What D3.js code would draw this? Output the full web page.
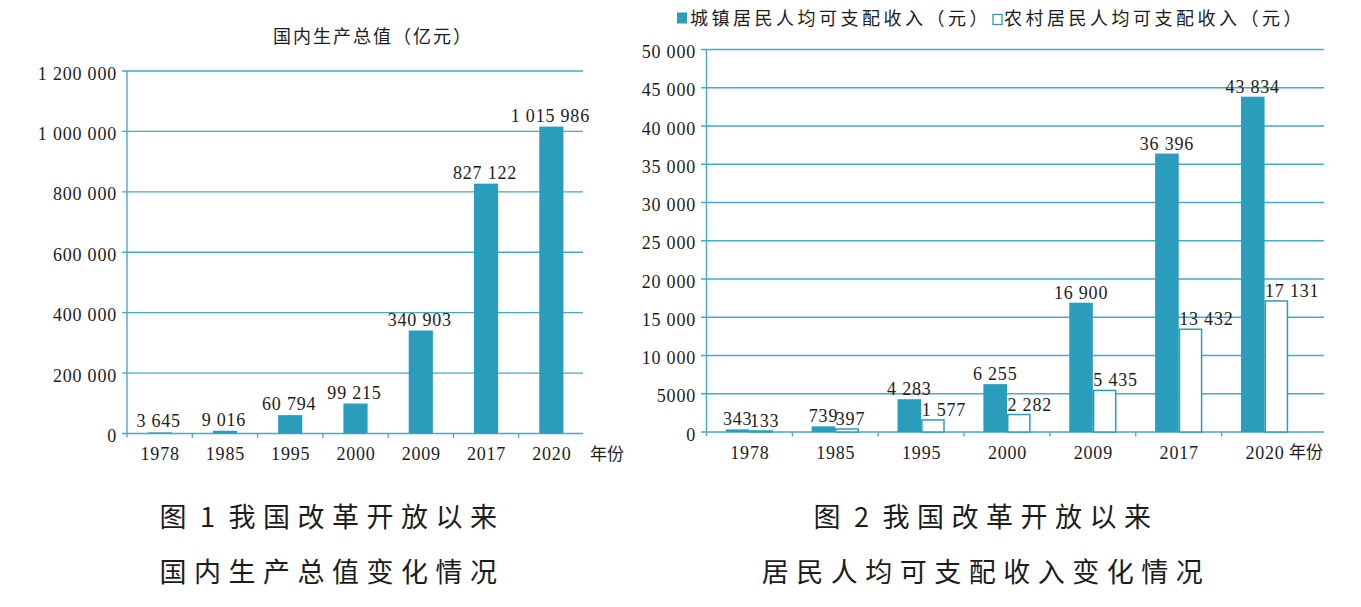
<!DOCTYPE html>
<html>
<head>
<meta charset="utf-8">
<script src="https://cdn.jsdelivr.net/npm/d3@7"></script>
<style>
  html, body { margin: 0; padding: 0; background: #fff; }
  svg { display: block; }
  .num { font-family: "Liberation Serif", "Times New Roman", serif; font-size: 18px; letter-spacing: 0.8px; fill: #1c1c1c; }
  .cjk { font-family: "Noto Sans CJK SC", sans-serif; fill: #1c1c1c; }
</style>
</head>
<body>
<div id="chart"></div>
<script>
// Two side-by-side bar charts: GDP since reform (left), per-capita disposable
// income urban vs rural (right).

const years = ['1978', '1985', '1995', '2000', '2009', '2017', '2020'];
const gdp = [3645, 9016, 60794, 99215, 340903, 827122, 1015986];
const urban = [343, 739, 4283, 6255, 16900, 36396, 43834];
const rural = [133, 397, 1577, 2282, 5435, 13432, 17131];
const gdpTicks = [0, 200000, 400000, 600000, 800000, 1000000, 1200000];
const incomeTicks = [0, 5000, 10000, 15000, 20000, 25000, 30000, 35000, 40000, 45000, 50000];
const seriesNames = ['城镇居民人均可支配收入（元）', '农村居民人均可支配收入（元）'];

const W = 1361, H = 607;
const BAR = '#2a9cbc';
const GRID = '#45a9c9';

const spaced = (v) => d3.format(',')(v).replace(/,/g, ' ');
const tickFmt = (v) => (v >= 10000 ? spaced(v) : String(v));

const svg = d3.select('#chart').append('svg')
  .attr('width', W).attr('height', H).attr('viewBox', `0 0 ${W} ${H}`);

// shared frame: gridlines, axis lines, category ticks, labels
function frame(x, y, ticks, o) {
  const g = svg.append('g');
  g.selectAll('line.grid').data(ticks).join('line')
    .attr('x1', o.gridL).attr('x2', o.gridR)
    .attr('y1', (d) => y(d)).attr('y2', (d) => y(d))
    .style('stroke', GRID).attr('stroke-width', 1.3);
  g.selectAll('text.yt').data(ticks).join('text')
    .attr('class', 'num')
    .attr('x', o.gridL - 5).attr('y', (d) => y(d) + 8.5)
    .attr('text-anchor', 'end')
    .text(tickFmt);
  // category boundary ticks
  const half = (x.step() - x.bandwidth()) / 2;
  g.selectAll('line.xt').data(years.slice(1)).join('line')
    .attr('x1', (d) => x(d) - half).attr('x2', (d) => x(d) - half)
    .attr('y1', y(0)).attr('y2', y(0) + 4.5)
    .style('stroke', GRID).attr('stroke-width', 1.3);
  g.selectAll('text.xl').data(years).join('text')
    .attr('class', 'num')
    .attr('x', (d) => x(d) + x.bandwidth() / 2 + 0.5).attr('y', y(0) + 26.5)
    .attr('text-anchor', 'middle')
    .text((d) => d);
  g.append('text').attr('class', 'cjk')
    .attr('x', o.unitX).attr('y', y(0) + 26)
    .style('font-size', '17px')
    .text('年份');
  return g;
}

function axisLine(x0, y0, y1) {
  svg.append('line')
    .attr('x1', x0).attr('x2', x0).attr('y1', y1).attr('y2', y0 + 4)
    .style('stroke', GRID).attr('stroke-width', 1.4);
}

// ---------- left: GDP ----------
{
  const x = d3.scaleBand().domain(years).range([127, 584]).paddingInner(0.63).paddingOuter(0.315);
  const y = d3.scaleLinear().domain([0, 1200000]).range([433.5, 71]);
  frame(x, y, gdpTicks, { gridL: 122, gridR: 583, unitX: 590 });

  svg.append('g').selectAll('rect').data(years).join('rect')
    .attr('x', (d) => x(d)).attr('width', x.bandwidth())
    .attr('y', (d, i) => y(gdp[i])).attr('height', (d, i) => y(0) - y(gdp[i]))
    .style('fill', BAR);

  svg.append('g').selectAll('text').data(years).join('text')
    .attr('class', 'num')
    .attr('x', (d) => x(d) + x.bandwidth() / 2 - 1)
    .attr('y', (d, i) => y(gdp[i]) - 5)
    .attr('text-anchor', 'middle')
    .text((d, i) => spaced(gdp[i]));

  axisLine(127, y(0), y(1200000));

  svg.append('text').attr('class', 'cjk')
    .attr('x', 373).attr('y', 43).attr('text-anchor', 'middle')
    .style('font-size', '18px').style('letter-spacing', '2px')
    .text('国内生产总值（亿元）');
}

// ---------- right: disposable income ----------
{
  const x0 = d3.scaleBand().domain(years).range([706.5, 1307.5]).paddingInner(0.45).paddingOuter(0.225);
  const x1 = d3.scaleBand().domain(['urban', 'rural']).range([0, x0.bandwidth()]);
  const y = d3.scaleLinear().domain([0, 50000]).range([432, 49.5]);
  frame(x0, y, incomeTicks, { gridL: 701, gridR: 1324, unitX: 1289 });

  const groups = svg.append('g').selectAll('g').data(years).join('g')
    .attr('transform', (d) => `translate(${x0(d)},0)`);

  groups.append('rect')
    .attr('x', x1('urban')).attr('width', x1.bandwidth())
    .attr('y', (d, i) => y(urban[i])).attr('height', (d, i) => y(0) - y(urban[i]))
    .style('fill', BAR);
  groups.append('rect')
    .attr('x', x1('rural') + 0.75).attr('width', x1.bandwidth() - 1.5)
    .attr('y', (d, i) => y(rural[i])).attr('height', (d, i) => y(0) - y(rural[i]))
    .style('fill', '#fff').style('stroke', BAR).attr('stroke-width', 1.5);

  groups.append('text').attr('class', 'num')
    .attr('x', x1('urban') + x1.bandwidth() / 2)
    .attr('y', (d, i) => y(urban[i]) - 4)
    .attr('text-anchor', 'middle')
    .text((d, i) => spaced(urban[i]));
  groups.append('text').attr('class', 'num')
    .attr('x', x1('rural') + 0.5)
    .attr('y', (d, i) => y(rural[i]) - 4)
    .text((d, i) => spaced(rural[i]));

  axisLine(706.5, y(0), y(50000));

  // legend
  const leg = svg.append('g');
  leg.append('rect').attr('x', 677).attr('y', 12.5).attr('width', 10).attr('height', 11)
    .style('fill', BAR);
  leg.append('rect').attr('x', 993).attr('y', 14.5).attr('width', 9).attr('height', 10)
    .style('fill', '#fff').style('stroke', BAR).attr('stroke-width', 1.3);
  leg.selectAll('text').data(seriesNames).join('text')
    .attr('class', 'cjk')
    .attr('x', (d, i) => (i === 0 ? 690 : 1004)).attr('y', 25)
    .style('font-size', '18px').style('letter-spacing', '3.5px')
    .text((d) => d);
}

// ---------- captions ----------
function caption(cx, num, line2) {
  const t1 = svg.append('text').attr('class', 'cjk')
    .attr('x', cx).attr('y', 527).attr('text-anchor', 'middle')
    .style('font-size', '27px').style('letter-spacing', '7.5px');
  t1.append('tspan').text('图');
  t1.append('tspan').attr('dx', 6).text(num);
  t1.append('tspan').attr('dx', 6).text('我国改革开放以来');
  svg.append('text').attr('class', 'cjk')
    .attr('x', cx).attr('y', 582).attr('text-anchor', 'middle')
    .style('font-size', '27px').style('letter-spacing', '7.5px')
    .text(line2);
}
caption(332, '1', '国内生产总值变化情况');
caption(986, '2', '居民人均可支配收入变化情况');
</script>
</body>
</html>
